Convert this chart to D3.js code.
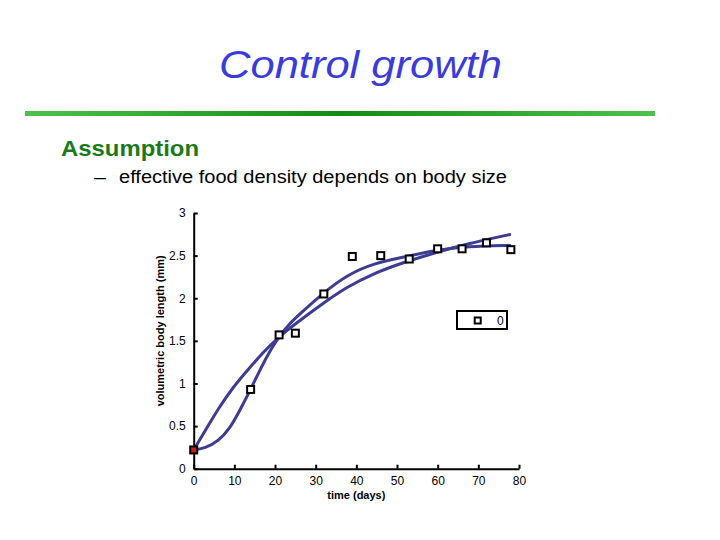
<!DOCTYPE html>
<html>
<head>
<meta charset="utf-8">
<script src="https://cdn.jsdelivr.net/npm/d3@7"></script>
<style>
html,body{margin:0;padding:0;background:#fff;}
svg{display:block;font-family:Arial,"Liberation Sans",sans-serif;}
</style>
</head>
<body>
<svg id="c" width="720" height="540"></svg>
<script>
// ---- data ----
const obsDays   = [0, 14, 21, 25, 32, 39, 46, 53, 60, 66, 72, 78];
const obsLength = [0.22, 0.93, 1.57, 1.59, 2.05, 2.49, 2.50, 2.46, 2.58, 2.58, 2.65, 2.57];

const fitADays   = [0, 3, 6, 9.4, 13.5, 17, 20.5, 25, 31.8, 37.6, 44.2, 51, 59, 67.3, 78];
const fitALength = [0.22, 0.46, 0.70, 0.94, 1.17, 1.36, 1.53, 1.70, 1.94, 2.13, 2.29, 2.41, 2.53, 2.64, 2.75];

const fitBDays   = [0, 2.8, 6, 8.9, 11.4, 13.9, 16.7, 19, 21, 23.5, 26.2, 31.8, 37.6, 44.2, 52.4, 59.1, 67.3, 78];
const fitBLength = [0.22, 0.24, 0.32, 0.47, 0.69, 0.92, 1.20, 1.40, 1.55, 1.70, 1.82, 2.06, 2.27, 2.41, 2.49, 2.56, 2.61, 2.62];

const xTicks = [0, 10, 20, 30, 40, 50, 60, 70, 80];
const yTicks = [0, 0.5, 1, 1.5, 2, 2.5, 3];
const legendLabels = ["0"];

const titleText = "Control growth";
const headingText = "Assumption";
const bulletText = "effective food density depends on body size";
const xLabel = "time (days)";
const yLabel = "volumetric body length (mm)";

// ---- drawing ----
const svg = d3.select("#c");

// title
svg.append("text").attr("x", 219).attr("y", 78)
  .attr("font-size", 39).attr("font-style", "italic").attr("fill", "#3b3bdb")
  .attr("textLength", 283).attr("lengthAdjust", "spacingAndGlyphs")
  .text(titleText);

// green rule with gradient
const defs = svg.append("defs");
const g = defs.append("linearGradient").attr("id", "gr").attr("x1", "0%").attr("x2", "100%");
g.append("stop").attr("offset", "0%").attr("stop-color", "#4cc24c");
g.append("stop").attr("offset", "50%").attr("stop-color", "#168816");
g.append("stop").attr("offset", "100%").attr("stop-color", "#4cc24c");
svg.append("rect").attr("x", 25).attr("y", 111).attr("width", 630).attr("height", 5).attr("fill", "url(#gr)");

svg.append("text").attr("x", 61).attr("y", 156)
  .attr("font-size", 22).attr("font-weight", "bold").attr("fill", "#1a7a1a")
  .attr("textLength", 138).attr("lengthAdjust", "spacingAndGlyphs")
  .text(headingText);

svg.append("text").attr("x", 94).attr("y", 183).attr("font-size", 18).attr("fill", "#000")
  .attr("textLength", 12).attr("lengthAdjust", "spacingAndGlyphs").text("–");
svg.append("text").attr("x", 119).attr("y", 183)
  .attr("font-size", 18).attr("fill", "#000")
  .attr("textLength", 388).attr("lengthAdjust", "spacingAndGlyphs")
  .text(bulletText);

// chart
const x = d3.scaleLinear().domain([0, 80]).range([193.7, 519]);
const y = d3.scaleLinear().domain([0, 3]).range([468.7, 213]);

const xAxis = d3.axisBottom(x).tickValues(xTicks).tickSizeInner(-4).tickSizeOuter(0).tickPadding(8).tickFormat(d3.format("d"));
const yAxis = d3.axisLeft(y).tickValues(yTicks).tickSizeInner(-4).tickSizeOuter(0).tickPadding(8).tickFormat(d => String(d));

const gx = svg.append("g").attr("transform", `translate(0,${y(0)})`).call(xAxis);
const gy = svg.append("g").attr("transform", `translate(${x(0)},0)`).call(yAxis);
[gx, gy].forEach(a => {
  a.select(".domain").attr("stroke", "#000").attr("stroke-width", 2);
  a.selectAll(".tick line").attr("stroke", "#000").attr("stroke-width", 2);
  a.selectAll(".tick text").attr("font-size", 12).attr("font-family", "Arial, 'Liberation Sans', sans-serif").attr("fill", "#000");
});

svg.append("text").attr("x", x(40)).attr("y", 499).attr("text-anchor", "middle")
  .attr("font-size", 11).attr("font-weight", "bold").text(xLabel);
svg.append("text").attr("transform", `translate(164,${(y(0)+y(3))/2 - 10}) rotate(-90)`)
  .attr("text-anchor", "middle").attr("font-size", 11).attr("font-weight", "bold").text(yLabel);

// curves
const line = d3.line().x(d => x(d[0])).y(d => y(d[1])).curve(d3.curveBasis);
const curveColor = "#3c3c92";
svg.append("path").datum(fitADays.map((d, i) => [d, fitALength[i]]))
  .attr("d", line).attr("fill", "none").attr("stroke", curveColor).attr("stroke-width", 3);
svg.append("path").datum(fitBDays.map((d, i) => [d, fitBLength[i]]))
  .attr("d", line).attr("fill", "none").attr("stroke", curveColor).attr("stroke-width", 3);

// observations
const ms = 7;
svg.append("g").selectAll("rect").data(obsDays.map((d, i) => [d, obsLength[i], i]))
  .join("rect")
  .attr("x", d => x(d[0]) - ms / 2).attr("y", d => y(d[1]) - ms / 2)
  .attr("width", ms).attr("height", ms)
  .attr("fill", d => d[2] === 0 ? "#cc2020" : "#fff")
  .attr("stroke", "#000").attr("stroke-width", 2);

// legend
const lg = svg.append("g");
lg.append("rect").attr("x", 457).attr("y", 311).attr("width", 50).attr("height", 18)
  .attr("fill", "#fff").attr("stroke", "#000").attr("stroke-width", 2);
lg.append("rect").attr("x", 477.7 - 3).attr("y", 320.5 - 3).attr("width", 6).attr("height", 6)
  .attr("fill", "#fff").attr("stroke", "#000").attr("stroke-width", 2);
lg.append("text").attr("x", 497).attr("y", 325).attr("font-size", 12).text(legendLabels[0]);
</script>
</body>
</html>
